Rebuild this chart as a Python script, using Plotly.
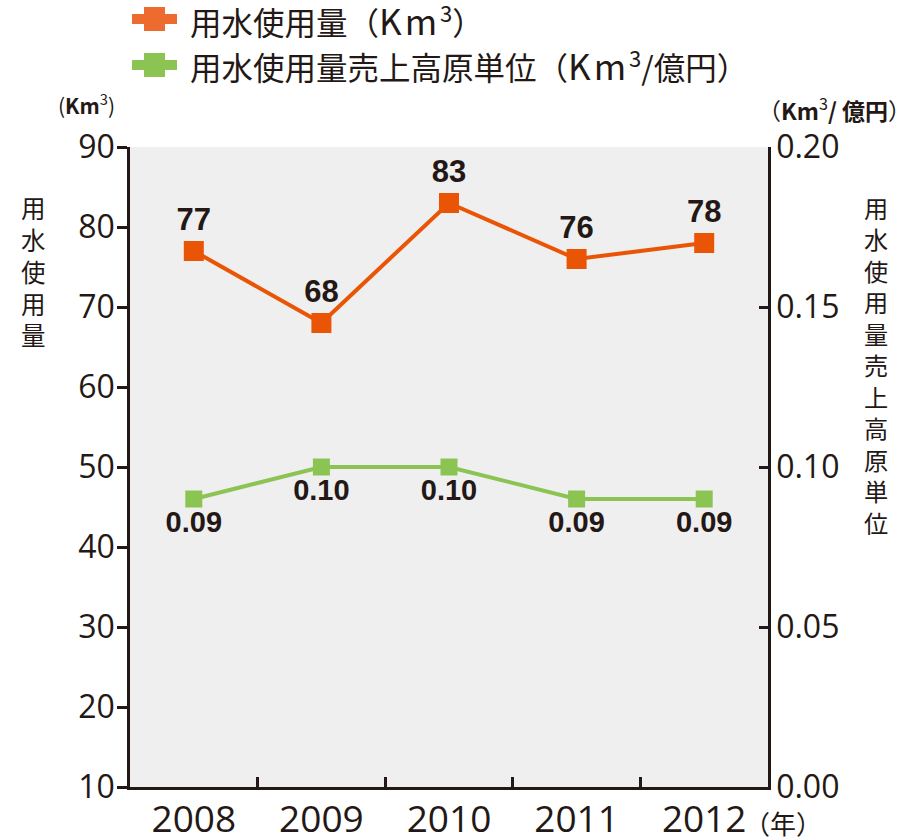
import plotly.graph_objects as go

# ---- data ----
years = ["2008", "2009", "2010", "2011", "2012"]
water_use = [77, 68, 83, 76, 78]                 # Km3
intensity = [0.09, 0.10, 0.10, 0.09, 0.09]       # Km3 / 億円
intensity_labels = ["0.09", "0.10", "0.10", "0.09", "0.09"]
left_ticks = [10, 20, 30, 40, 50, 60, 70, 80, 90]
right_ticks = [0.0, 0.05, 0.10, 0.15, 0.20]
right_tick_labels = ["0.00", "0.05", "0.10", "0.15", "0.20"]
KM = "<span style='font-size:35px;letter-spacing:3px'>Km</span>"
legend_names = [
    "用水使用量（" + KM + "<sup>3</sup>）",
    "用水使用量売上高原単位（" + KM + "<sup>3</sup>/億円）",
]
left_title = "用水使用量"
right_title = "用水使用量売上高原単位"

# ---- style ----
W, H = 911, 840
L, R, T, B = 130, 768, 147, 787
ORANGE = "#E95504"
ORANGE_LEG = "#EE6B30"
GREEN = "#8CC453"
DARK = "#231815"
BG = "#EFEFEF"
TICK_FONT = "Open Sans, Liberation Sans, sans-serif"
LABEL_FONT = "Liberation Sans, Arial, sans-serif"
CJK_FONT = "Noto Sans CJK JP, sans-serif"


def px(x):
    return (x - L) / (R - L)


def py(y):
    return (B - y) / (B - T)


fig = go.Figure()
fig.add_trace(go.Scatter(
    x=years, y=water_use, mode="lines+markers+text",
    text=[str(v) for v in water_use], textposition="top center",
    textfont=dict(family=LABEL_FONT, size=31, color=DARK, weight="bold"),
    line=dict(color=ORANGE, width=4),
    marker=dict(symbol="square", size=20, color=ORANGE),
    showlegend=False, cliponaxis=False,
))
fig.add_trace(go.Scatter(
    x=years, y=intensity, yaxis="y2", mode="lines+markers+text",
    text=intensity_labels, textposition="bottom center",
    textfont=dict(family=LABEL_FONT, size=29, color=DARK, weight="bold"),
    line=dict(color=GREEN, width=4),
    marker=dict(symbol="square", size=17, color=GREEN),
    showlegend=False, cliponaxis=False,
))

shapes = []
annotations = []
# custom legend
for cy, col, name in [(19, ORANGE_LEG, legend_names[0]), (65, GREEN, legend_names[1])]:
    shapes.append(dict(type="rect", xref="paper", yref="paper",
                       x0=px(132), x1=px(177), y0=py(cy + 5), y1=py(cy - 5),
                       fillcolor=col, line=dict(width=0)))
    shapes.append(dict(type="rect", xref="paper", yref="paper",
                       x0=px(144), x1=px(165), y0=py(cy + 12), y1=py(cy - 12),
                       fillcolor=col, line=dict(width=0)))
    annotations.append(dict(xref="paper", yref="paper", x=px(188), y=py(cy),
                            xanchor="left", yanchor="middle", showarrow=False,
                            text=name, font=dict(family=CJK_FONT, size=31.5, color=DARK)))

# unit labels
annotations.append(dict(xref="paper", yref="paper", x=px(86), y=py(104),
                        xanchor="center", yanchor="middle", showarrow=False,
                        text="(<b>Km</b><sup>3</sup>)",
                        font=dict(family=CJK_FONT, size=21, color=DARK)))
annotations.append(dict(xref="paper", yref="paper", x=px(834), y=py(109),
                        xanchor="center", yanchor="middle", showarrow=False,
                        text="（<b>Km</b><sup>3</sup><b>/ 億円</b>）",
                        font=dict(family=CJK_FONT, size=23, color=DARK)))
# year unit
annotations.append(dict(xref="paper", yref="paper", x=px(783), y=py(822),
                        xanchor="center", yanchor="middle", showarrow=False,
                        text="（年）", font=dict(family=CJK_FONT, size=26, color=DARK)))

# vertical axis titles
annotations.append(dict(xref="paper", yref="paper", x=px(33), y=py(188),
                        xanchor="center", yanchor="top", showarrow=False,
                        text="<br>".join(left_title),
                        font=dict(family=CJK_FONT, size=24.5, color=DARK)))
annotations.append(dict(xref="paper", yref="paper", x=px(876), y=py(188),
                        xanchor="center", yanchor="top", showarrow=False,
                        text="<br>".join(right_title),
                        font=dict(family=CJK_FONT, size=24.2, color=DARK)))

fig.update_layout(
    width=W, height=H,
    margin=dict(l=L, r=W - R, t=T, b=H - B, pad=0),
    paper_bgcolor="white", plot_bgcolor=BG,
    showlegend=False,
    shapes=shapes, annotations=annotations,
    xaxis=dict(type="category", range=[-0.5, 4.5], tickson="boundaries",
               ticks="inside", ticklen=10, tickwidth=2.5, tickcolor=DARK,
               showline=True, linecolor=DARK, linewidth=2.5,
               showgrid=False, zeroline=False, automargin=False,
               ticklabelstandoff=-2,
               tickfont=dict(family=TICK_FONT, size=37, color=DARK)),
    yaxis=dict(range=[10, 90], tickvals=left_ticks,
               ticks="outside", ticklen=10, tickwidth=2.5, tickcolor=DARK,
               showline=True, linecolor=DARK, linewidth=2.5,
               showgrid=False, zeroline=False, automargin=False,
               ticklabelstandoff=-4,
               tickfont=dict(family=TICK_FONT, size=32, color=DARK)),
    yaxis2=dict(overlaying="y", side="right", range=[0, 0.2],
                tickvals=right_ticks, ticktext=right_tick_labels,
                ticks="inside", ticklen=9, tickwidth=2.5, tickcolor=DARK,
                showline=True, linecolor=DARK, linewidth=2.5,
                showgrid=False, zeroline=False, automargin=False,
                ticklabelstandoff=-1,
                tickfont=dict(family=TICK_FONT, size=32, color=DARK)),
)

fig.write_html("out.html", config={"displayModeBar": False},
               post_script="document.body.style.margin='0';document.body.style.overflow='hidden';")
